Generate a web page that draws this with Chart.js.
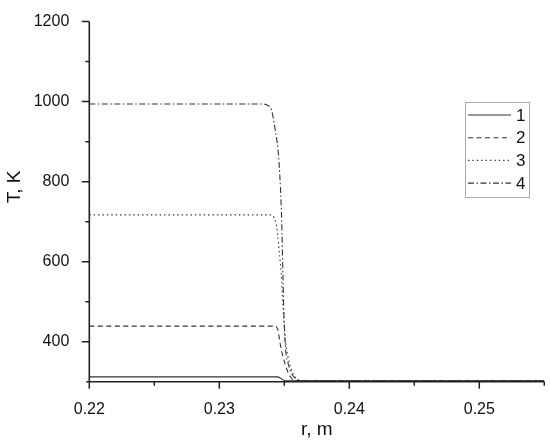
<!DOCTYPE html>
<html>
<head>
<meta charset="utf-8">
<script src="https://cdn.jsdelivr.net/npm/chart.js@4.4.1/dist/chart.umd.min.js"></script>
<style>
  html, body { margin: 0; padding: 0; background: #fff; }
  #wrap { width: 550px; height: 447px; position: relative; }
</style>
</head>
<body>
<div id="wrap"><canvas id="c"></canvas></div>
<script>
// ---- data ----
const seriesLabels = ["1", "2", "3", "4"];

const r1 = [0.2200, 0.2345, 0.2347, 0.2349, 0.2351, 0.2550];
const t1 = [312,    312,    309,    305,    302,    302];

const r2 = [0.2200, 0.2343, 0.2345, 0.2346, 0.2347, 0.2348, 0.2349, 0.2351, 0.2353, 0.2355, 0.2357, 0.2360, 0.2550];
const t2 = [439,    439,    430,    412,    392,    376,    362,    340,    322,    311,    304,    302,    302];

const r3 = [0.2200, 0.2340, 0.2342, 0.2344, 0.2346, 0.2348, 0.2349, 0.2350, 0.2351, 0.2353, 0.2355, 0.2357, 0.2360, 0.2363, 0.2550];
const t3 = [717,    717,    711,    690,    630,    550,    490,    440,    400,    360,    335,    318,    306,    302,    302];

const r4 = [0.2200, 0.2333, 0.2337, 0.2340, 0.2343, 0.2346, 0.2348, 0.2349, 0.2350, 0.2351, 0.2353, 0.2355, 0.2358, 0.2361, 0.2365, 0.2550];
const t4 = [994,    994,    991,    980,    930,    845,    700,    560,    440,    380,    345,    325,    310,    304,    302,    302];

const xMajorTicks = [0.22, 0.23, 0.24, 0.25];
const xMinorTicks = [0.225, 0.235, 0.245, 0.255];
const yMajorTicks = [400, 600, 800, 1000, 1200];
const yMinorTicks = [500, 700, 900, 1100];

const xMin = 0.22, xMax = 0.255;
const yMin = 300, yMax = 1200;

// ---- styles ----
const lineColor = "#333";
const dashes = [[], [5, 3.5], [1.4, 3], [6, 2.5, 1.5, 2.5]];
const FONT = "'Liberation Sans', Arial, sans-serif";

function pts(rs, ts) { return rs.map((r, i) => ({ x: r, y: ts[i] })); }
const allR = [r1, r2, r3, r4];
const allT = [t1, t2, t3, t4];

const datasets = seriesLabels.map((lab, i) => ({
  label: lab,
  data: pts(allR[i], allT[i]),
  borderColor: lineColor,
  borderWidth: 1.1,
  borderDash: dashes[i],
  pointRadius: 0,
  fill: false,
  cubicInterpolationMode: "monotone"
}));

const decorPlugin = {
  id: "decor",
  afterDraw(chart) {
    const ctx = chart.ctx;
    const xs = chart.scales.x, ys = chart.scales.y;
    const a = chart.chartArea;
    ctx.save();
    ctx.strokeStyle = "#222";
    ctx.lineWidth = 1.6;
    ctx.setLineDash([]);
    // axes
    ctx.beginPath();
    ctx.moveTo(a.left, a.top);
    ctx.lineTo(a.left, a.bottom);
    ctx.moveTo(a.left - 3, a.bottom);
    ctx.lineTo(a.right, a.bottom);
    ctx.stroke();
    // ticks
    ctx.lineWidth = 1.5;
    ctx.beginPath();
    xMajorTicks.forEach(v => { const p = xs.getPixelForValue(v); ctx.moveTo(p, a.bottom); ctx.lineTo(p, a.bottom + 7); });
    xMinorTicks.forEach(v => { const p = xs.getPixelForValue(v); ctx.moveTo(p, a.bottom); ctx.lineTo(p, a.bottom + 4); });
    yMajorTicks.forEach(v => { const p = ys.getPixelForValue(v); ctx.moveTo(a.left, p); ctx.lineTo(a.left - 7.5, p); });
    yMinorTicks.forEach(v => { const p = ys.getPixelForValue(v); ctx.moveTo(a.left, p); ctx.lineTo(a.left - 4, p); });
    ctx.stroke();
    // axis titles
    ctx.fillStyle = "#111";
    ctx.font = "19px " + FONT;
    ctx.textAlign = "center";
    ctx.textBaseline = "middle";
    ctx.fillText("r, m", (a.left + a.right) / 2, 430);
    ctx.save();
    ctx.translate(15, 187);
    ctx.rotate(-Math.PI / 2);
    ctx.fillText("T, K", 0, 0);
    ctx.restore();
    // legend
    const bx = 465, by = 102, bw = 64, bh = 95;
    ctx.strokeStyle = "#aaa";
    ctx.lineWidth = 1;
    ctx.strokeRect(bx + 0.5, by + 0.5, bw, bh);
    ctx.font = "17px " + FONT;
    ctx.textAlign = "left";
    ctx.fillStyle = "#111";
    chart.data.datasets.forEach((ds, i) => {
      const yy = 115 + i * 22.7;
      ctx.strokeStyle = ds.borderColor;
      ctx.lineWidth = ds.borderWidth;
      ctx.setLineDash(ds.borderDash);
      ctx.beginPath();
      ctx.moveTo(468, yy);
      ctx.lineTo(511, yy);
      ctx.stroke();
      ctx.setLineDash([]);
      ctx.fillText(ds.label, 516, yy + 1);
    });
    ctx.restore();
  }
};

new Chart(document.getElementById("c"), {
  type: "line",
  data: { datasets },
  options: {
    responsive: true,
    maintainAspectRatio: false,
    animation: false,
    events: [],
    layout: { padding: { top: 15, right: 5.7, left: 0, bottom: 0 } },
    plugins: { legend: { display: false }, tooltip: { enabled: false } },
    scales: {
      x: {
        type: "linear",
        min: xMin, max: xMax,
        grid: { display: false },
        border: { display: false },
        afterFit(s) { s.height = 65.3; },
        afterBuildTicks(s) { s.ticks = xMajorTicks.map(v => ({ value: v })); },
        ticks: {
          autoSkip: false, maxRotation: 0, padding: 10,
          color: "#111",
          font: { size: 16, family: FONT },
          callback: v => Number(v).toFixed(2)
        }
      },
      y: {
        type: "linear",
        min: yMin, max: yMax,
        grid: { display: false },
        border: { display: false },
        afterFit(s) { s.width = 89.3; },
        afterBuildTicks(s) { s.ticks = yMajorTicks.map(v => ({ value: v })); },
        ticks: {
          autoSkip: false, padding: 12,
          color: "#111",
          font: { size: 16, family: FONT },
          callback: v => String(v)
        }
      }
    }
  },
  plugins: [decorPlugin]
});
</script>
</body>
</html>
